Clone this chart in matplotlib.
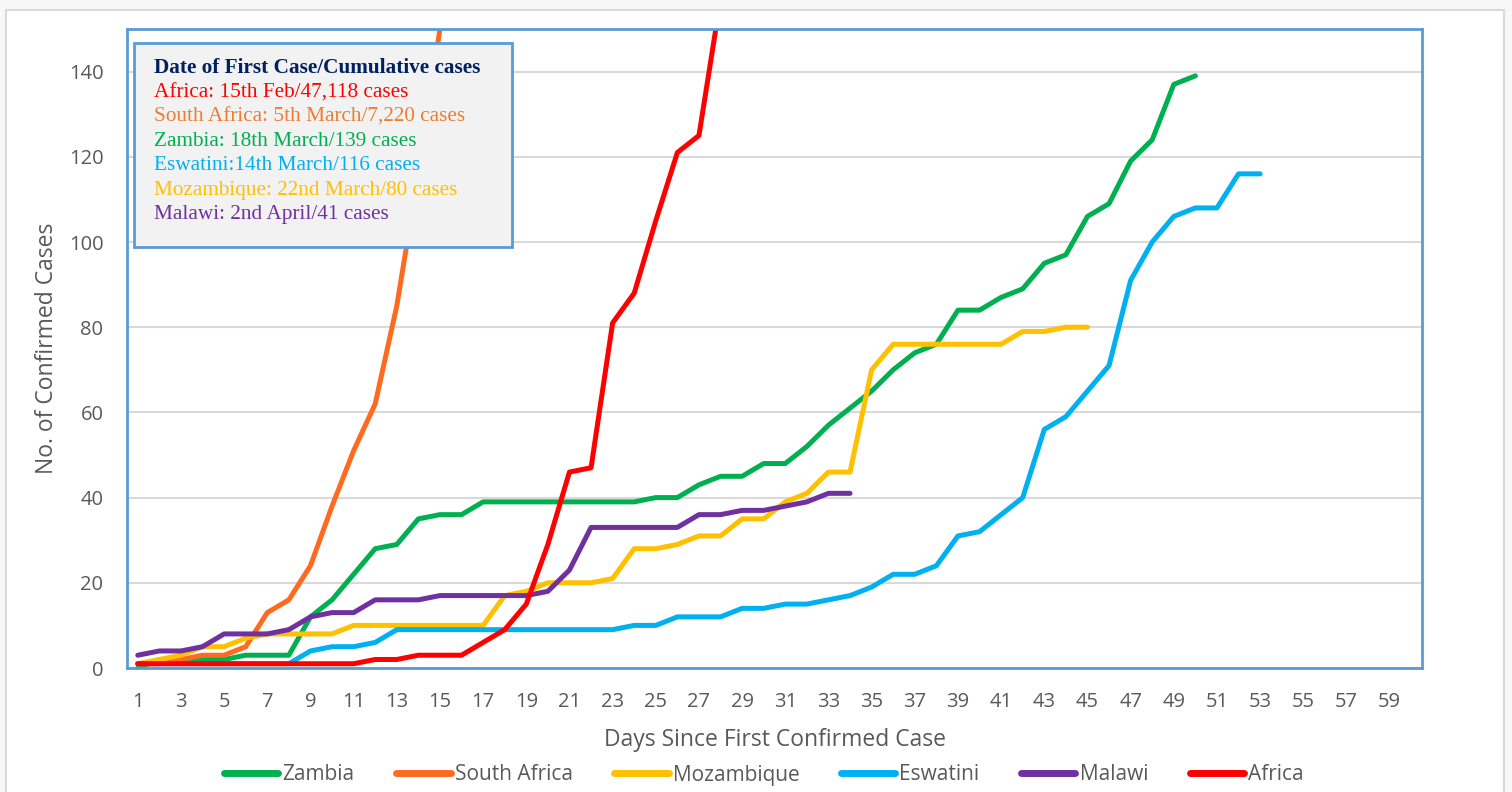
import matplotlib.pyplot as plt
from matplotlib.patches import Rectangle

# cumulative confirmed cases, day 1 = date of first case
zambia = [0, 2, 2, 2, 2, 3, 3, 3, 12, 16, 22, 28, 29, 35, 36, 36,
          39, 39, 39, 39, 39, 39, 39, 39, 40, 40, 43, 45, 45, 48, 48, 52,
          57, 61, 65, 70, 74, 76, 84, 84, 87, 89, 95, 97, 106, 109, 119,
          124, 137, 139]
south_africa = [1, 1, 2, 3, 3, 5, 13, 16, 24, 38, 51, 62, 85, 116, 150,
                202, 240, 274]
mozambique = [1, 2, 3, 5, 5, 7, 8, 8, 8, 8, 10, 10, 10, 10, 10, 10, 10,
              17, 18, 20, 20, 20, 21, 28, 28, 29, 31, 31, 35, 35, 39, 41,
              46, 46, 70, 76, 76, 76, 76, 76, 76, 79, 79, 80, 80]
eswatini = [1, 1, 1, 1, 1, 1, 1, 1, 4, 5, 5, 6, 9, 9, 9, 9, 9, 9, 9, 9,
            9, 9, 9, 10, 10, 12, 12, 12, 14, 14, 15, 15, 16, 17, 19, 22,
            22, 24, 31, 32, 36, 40, 56, 59, 65, 71, 91, 100, 106, 108, 108,
            116, 116]
malawi = [3, 4, 4, 5, 8, 8, 8, 9, 12, 13, 13, 16, 16, 16, 17, 17, 17, 17,
          17, 18, 23, 33, 33, 33, 33, 33, 36, 36, 37, 37, 38, 39, 41, 41]
africa = [1, 1, 1, 1, 1, 1, 1, 1, 1, 1, 1, 2, 2, 3, 3, 3, 6, 9, 15, 29,
          46, 47, 81, 88, 105, 121, 125, 157, 210]

series = [
    ("Zambia", zambia, "#00B050"),
    ("South Africa", south_africa, "#FF6A21"),
    ("Mozambique", mozambique, "#FFC000"),
    ("Eswatini", eswatini, "#00B0F0"),
    ("Malawi", malawi, "#7030A0"),
    ("Africa", africa, "#FF0000"),
]

box_title = "Date of First Case/Cumulative cases"
box_lines = [
    ("Africa: 15th Feb/47,118 cases", "#FF0000"),
    ("South Africa: 5th March/7,220 cases", "#ED7D31"),
    ("Zambia: 18th March/139 cases", "#00B050"),
    ("Eswatini:14th March/116 cases", "#00B0F0"),
    ("Mozambique: 22nd March/80 cases", "#FFC000"),
    ("Malawi: 2nd April/41 cases", "#7030A0"),
]

plt.rcParams['font.family'] = ['Open Sans', 'DejaVu Sans']
W, H = 1512, 792
fig = plt.figure(figsize=(W / 100, H / 100), dpi=100, facecolor="#F7F7F7")

# outer chart frame
fig.patches.append(Rectangle((6 / W, -0.02), (1504 - 6) / W, 1 - 10 / H + 0.02,
                             transform=fig.transFigure, facecolor="white",
                             edgecolor="#D9D9D9", linewidth=1.5, zorder=-10))

ax = fig.add_axes([127 / W, 1 - 668 / H, (1422 - 127) / W, (668 - 29) / H])
ax.set_facecolor("white")

for name, vals, col in series:
    days = list(range(1, len(vals) + 1))
    ax.plot(days, vals, color=col, lw=3.6, label=name,
            solid_capstyle="round", solid_joinstyle="round")

ax.set_xlim(0.5, 60.5)
ax.set_ylim(0, 150)
ax.set_xticks(range(1, 60, 2))
ax.set_yticks(range(0, 141, 20))
ax.grid(axis="y", color="#D9D9D9", lw=1.5)
ax.set_axisbelow(True)
for sp in ax.spines.values():
    sp.set_color("#5B9BD5")
    sp.set_linewidth(2)
ax.tick_params(axis="both", length=0, labelsize=14.5, colors="#595959")
ax.tick_params(axis="x", pad=17)
ax.tick_params(axis="y", pad=17)

ax.set_xlabel("Days Since First Confirmed Case", fontsize=16.5, color="#595959",
              labelpad=12)
ax.set_ylabel("No. of Confirmed Cases", fontsize=16.5, color="#595959",
              labelpad=7)

# info box
fig.patches.append(Rectangle((134 / W, 1 - 247 / H), (512 - 134) / W, (247 - 43) / H,
                             transform=fig.transFigure, facecolor="#F2F2F2",
                             edgecolor="#5B9BD5", linewidth=2, zorder=5))
fig.text(154 / W, 1 - 68 / H, box_title, family="Liberation Serif",
         fontweight="bold", fontsize=15.3, color="#002060", va="center", zorder=6)
for i, (txt, col) in enumerate(box_lines):
    fig.text(154 / W, 1 - (93 + i * 24.3) / H, txt, family="Liberation Serif",
             fontsize=15.3, color=col, va="center", zorder=6)

leg = fig.legend(loc="center", bbox_to_anchor=(764 / W, 1 - 775 / H), ncol=6,
                 frameon=False, fontsize=15, handlelength=2.6,
                 handletextpad=0.2, columnspacing=2.0)
for t in leg.get_texts():
    t.set_color("#595959")
for ln in leg.get_lines():
    ln.set_linewidth(5)
    ln.set_solid_capstyle("round")

fig.savefig("out.png", dpi=100, facecolor=fig.get_facecolor())
